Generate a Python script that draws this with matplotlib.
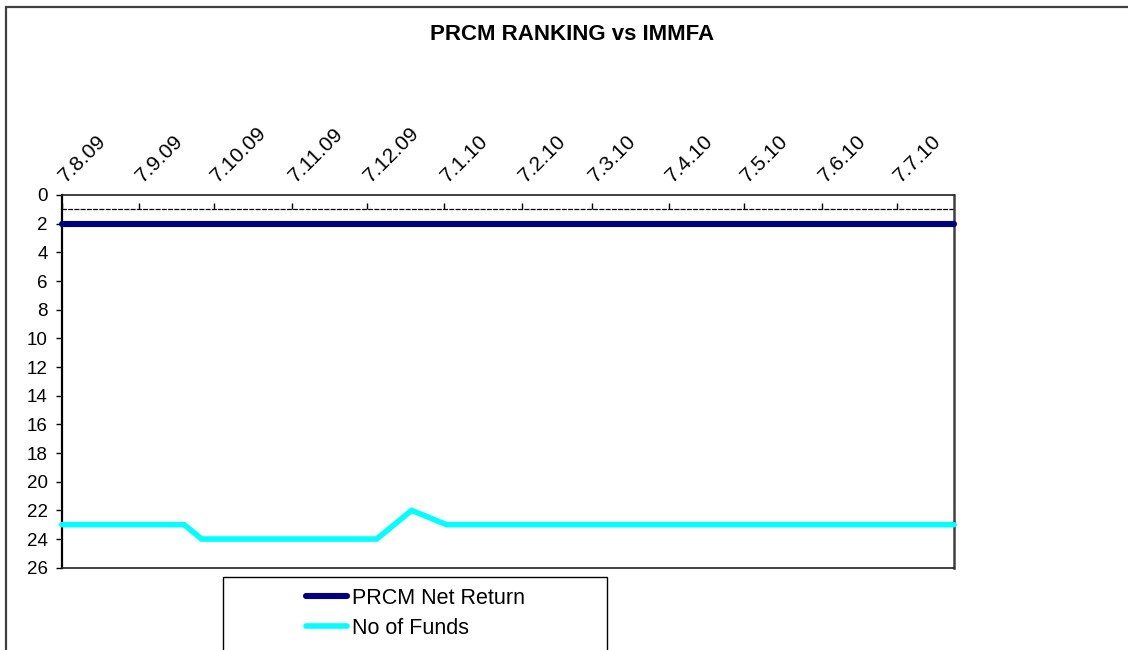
import pandas as pd
import matplotlib
matplotlib.use('Agg')
import matplotlib.pyplot as plt
import matplotlib.patches as patches

plt.rcParams['font.family'] = ['Liberation Sans', 'DejaVu Sans']

# Weekly (Friday) observations, new year's day missing
dates = pd.date_range('2009-08-07', '2010-07-30', freq='7D')
dates = dates[dates != pd.Timestamp('2010-01-01')]

prcm_net_return = [2] * 51
no_of_funds = ([23, 23, 23, 23, 23, 23, 23, 23]
               + [24, 24, 24, 24, 24, 24, 24, 24, 24, 24, 24]
               + [23, 22]
               + [23] * 30)

tick_dates = pd.to_datetime(['2009-08-07', '2009-09-07', '2009-10-07', '2009-11-07',
                             '2009-12-07', '2010-01-07', '2010-02-07', '2010-03-07',
                             '2010-04-07', '2010-05-07', '2010-06-07', '2010-07-07'])
tick_labels = ['7.8.09', '7.9.09', '7.10.09', '7.11.09', '7.12.09', '7.1.10',
               '7.2.10', '7.3.10', '7.4.10', '7.5.10', '7.6.10', '7.7.10']
y_ticks = list(range(0, 27, 2))

W, H = 1128, 650
fig = plt.figure(figsize=(W / 100, H / 100), dpi=100)

# outer chart frame (right and bottom edges fall outside the picture)
fig.patches.append(patches.Rectangle((6 / W, -0.1), 1.2, 1.1 - 7 / H,
                                     transform=fig.transFigure, fill=False,
                                     edgecolor='#404040', linewidth=1.6))

ax = fig.add_axes([61.7 / W, 1 - 567.7 / H, (954 - 61.7) / W, (567.7 - 195) / H])

ax.plot(dates, prcm_net_return, color='#000080', linewidth=4.4,
        solid_capstyle='round', label='PRCM Net Return', clip_on=False, zorder=3)
ax.plot(dates, no_of_funds, color='#00FFFF', linewidth=4.0,
        solid_capstyle='round', solid_joinstyle='miter', label='No of Funds',
        clip_on=False, zorder=3)

ax.set_xlim(dates[0], dates[-1])
ax.set_ylim(26, 0)
ax.set_yticks(y_ticks)
ax.set_yticklabels([str(v) for v in y_ticks])
ax.tick_params(axis='y', direction='out', length=4, width=1, pad=6,
               labelsize=13.5, colors='black')
ax.set_xticks([])

for side in ['top', 'bottom']:
    ax.spines[side].set_color('#202020')
    ax.spines[side].set_linewidth(1.2)
ax.spines['right'].set_color('#404040')
ax.spines['right'].set_linewidth(1.8)
ax.spines['left'].set_color('black')
ax.spines['left'].set_linewidth(1.6)

# category axis crosses at 1 with a dashed line, labels above the plot
sec = ax.secondary_xaxis(1 - 1 / 26)
sec.spines['top'].set_linestyle((0, (3, 2)))
sec.spines['top'].set_linewidth(0.9)
sec.set_xticks(tick_dates)
sec.set_xticklabels([])
sec.tick_params(axis='x', direction='out', length=4, width=1)

for d, lab in zip(tick_dates, tick_labels):
    ax.annotate(lab, xy=(d, 1), xycoords='data', xytext=(3, 18.7),
                textcoords='offset points', rotation=45, ha='left',
                va='baseline', rotation_mode='anchor', fontsize=15,
                annotation_clip=False)

fig.text(572 / W, 1 - 34 / H, 'PRCM RANKING vs IMMFA', ha='center', va='center',
         fontsize=16, fontweight='bold')

# legend box
fig.patches.append(patches.Rectangle((222.7 / W, -0.1), (607 - 222.7) / W,
                                     0.1 + 1 - 577 / H, transform=fig.transFigure,
                                     fill=False, edgecolor='black', linewidth=1))
fig.legend(loc='upper left', bbox_to_anchor=(306 / W, 1 - 588 / H), frameon=False,
           fontsize=15.5, borderpad=0, borderaxespad=0, handlelength=1.9,
           handletextpad=0.25, labelspacing=0.4)

fig.savefig('out.png', dpi=100)
